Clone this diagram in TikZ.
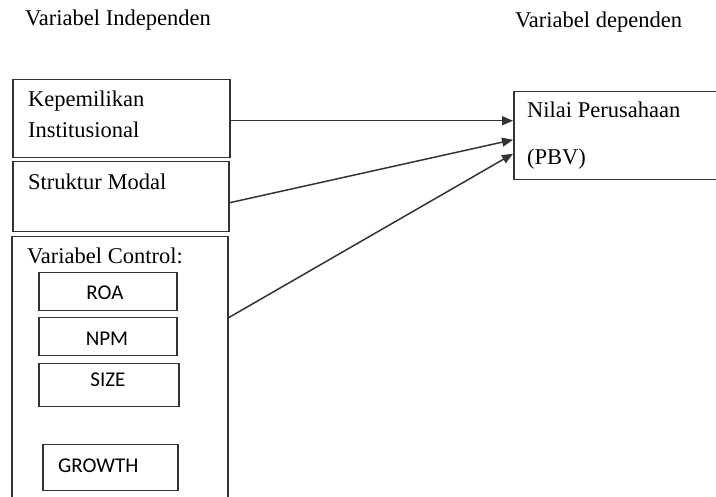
\documentclass[tikz,border=0pt]{standalone}
\usepackage{fontspec}
\setmainfont{Liberation Serif}
\newfontfamily\calib{Carlito}
\usetikzlibrary{arrows.meta}
\begin{document}
\begin{tikzpicture}[x=1pt,y=-1pt,
  box/.style={draw=black!80, line width=1.5pt, inner sep=0pt, anchor=north west},
  serif/.style={inner sep=0pt, anchor=base west, text=black, font=\fontsize{22.5}{27}\selectfont},
  sans/.style={inner sep=0pt, anchor=base, text=black, font=\calib\fontsize{21}{25}\selectfont},
  conn/.style={draw=black!80, line width=1.5pt, -{Triangle[length=11pt,width=9pt]}}]
\useasboundingbox (0,0) rectangle (716,497);
\clip (0,0) rectangle (716,497);
% boxes
\node[box, minimum width=217pt, minimum height=78pt] (kep) at (12,79) {};
\node[box, minimum width=216pt, minimum height=70pt] (sm) at (12,161) {};
\node[box, minimum width=216pt, minimum height=284pt] (vc) at (11,236) {};
\node[box, minimum width=138pt, minimum height=38pt] (roa) at (38,272) {};
\node[box, minimum width=138pt, minimum height=38pt] (npm) at (38,317) {};
\node[box, minimum width=140pt, minimum height=43pt] (size) at (38,363) {};
\node[box, minimum width=135pt, minimum height=46pt] (growth) at (42,444) {};
\node[box, minimum width=227pt, minimum height=88pt] (nilai) at (513,91) {};
% texts
\node[serif] (ti) at (25,26) {Variabel Independen};
\node[serif] (td) at (515,28) {Variabel dependen};
\node[serif] (t1) at (28,107) {Kepemilikan};
\node[serif] (t2) at (28,138) {Institusional};
\node[serif] (t3) at (28,190) {Struktur Modal};
\node[serif] (t4) at (27,264) {Variabel Control:};
\node[serif] (t5) at (527,118) {Nilai Perusahaan};
\node[serif] (t6) at (527,165) {(PBV)};
\node[sans] (l1) at (105,300) {ROA};
\node[sans] (l2) at (107,346) {NPM};
\node[sans] (l3) at (108,387) {SIZE};
\node[sans, anchor=base west] (l4) at (58,472) {GROWTH};
% connectors
\draw[conn] ([yshift=-2pt]kep.east) -- ([yshift=15pt]nilai.west);
\draw[conn] ([yshift=-6pt]sm.east) -- ([yshift=-4pt]nilai.west);
\draw[conn] ([yshift=61pt]vc.east) -- ([yshift=-18pt]nilai.west);
\end{tikzpicture}
\end{document}
